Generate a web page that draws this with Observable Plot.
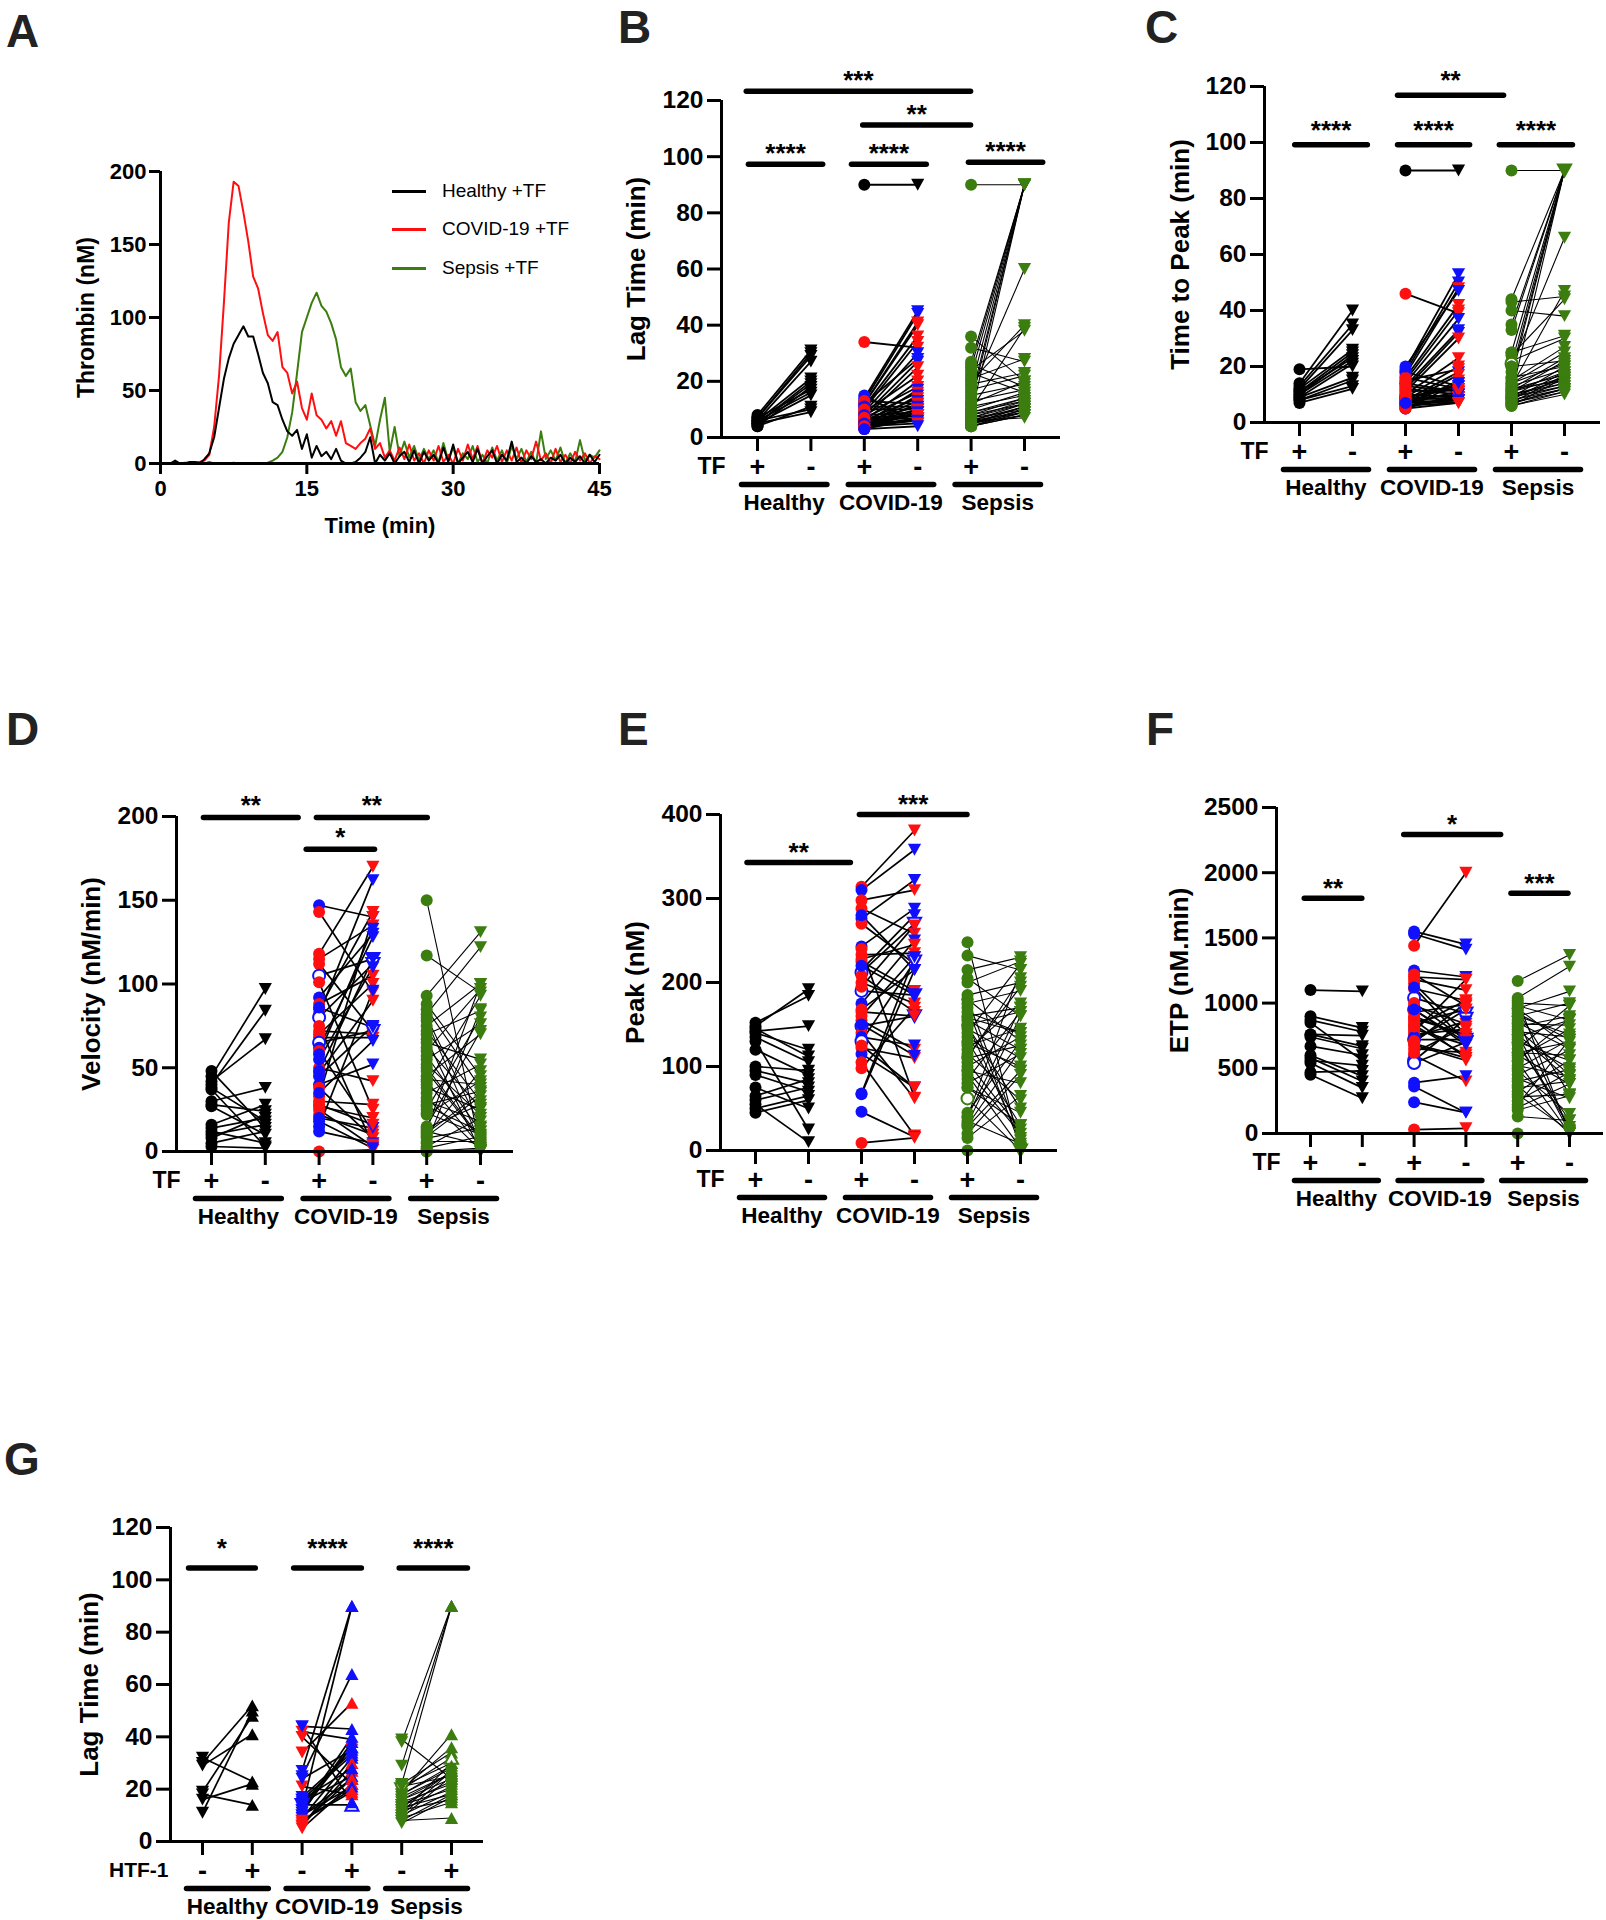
<!DOCTYPE html>
<html>
<head>
<meta charset="utf-8">
<script src="https://cdn.jsdelivr.net/npm/d3@7"></script>
<script src="https://cdn.jsdelivr.net/npm/@observablehq/plot@0.6"></script>
<style>
  html, body { margin: 0; padding: 0; background: #fff; overflow: hidden; }
  #page { position: relative; width: 1606px; height: 1920px; font-family: "Liberation Sans", Arial, sans-serif; }
  .letter { position: absolute; font-size: 46px; font-weight: bold; line-height: 1; color: #222; }
  .leg { position: absolute; font-size: 19px; line-height: 1; color: #000; }
  .legline { position: absolute; height: 3px; }
</style>
</head>
<body>
<div id="page"></div>
<script>
// ---------------- Panel A data: thrombin generation curves ----------------
const timeA = [0.5,1,1.5,2,2.5,3,3.5,4,4.5,5, 5.5,6,6.5,7,7.5,8,8.5,9,9.5,10,
  10.5,11,11.5,12,12.5,13,13.5,14,14.5,15, 15.5,16,16.5,17,17.5,18,18.5,19,19.5,20,
  20.5,21,21.5,22,22.5,23,23.5,24,24.5,25, 25.5,26,26.5,27,27.5,28,28.5,29,29.5,30,
  30.5,31,31.5,32,32.5,33,33.5,34,34.5,35, 35.5,36,36.5,37,37.5,38,38.5,39,39.5,40,
  40.5,41,41.5,42,42.5,43,43.5,44,44.5,45];
const thrombinHealthy = [0,0,2,0,0,1,1,0,3,7, 18,38,58,72,82,88,94,87,87,75,
  62,55,42,40,30,22,19,23,10,20, 4,12,5,8,3,10,2,0,0,1,
  4,8,18,0,6,2,7,0,5,8, 1,9,0,8,2,6,0,11,1,13,
  0,4,8,1,10,0,5,9,0,6, 2,15,1,4,0,5,1,3,0,4,
  2,6,0,4,1,5,0,6,1,6];
const thrombinCovid = [0,0,0,0,0.5,0.5,1,1,2,6, 25,60,110,165,193,190,172,152,128,120,
  103,88,84,90,66,62,48,56,38,30, 48,33,30,24,29,19,29,14,12,10,
  14,17,24,10,14,4,9,2,11,3, 13,2,7,0,9,2,12,1,6,0,
  10,2,13,3,12,0,9,4,12,1, 9,2,11,0,9,3,15,2,7,0,
  10,1,6,0,8,2,7,0,5,3];
const thrombinSepsis = [0,0,0,0,0,0,0.5,0,0,1, 0,0,0,0,0.5,0,0,0,0,0,
  0,0.5,2,4,8,18,35,62,90,100, 110,117,108,104,96,85,66,60,65,42,
  36,40,26,12,30,45,8,25,5,15, 4,12,2,10,3,9,1,14,2,11,
  0,7,3,12,1,6,0,11,2,9, 0,12,3,10,1,8,0,22,3,9,
  2,11,0,7,1,16,2,6,4,9];
const legendA = ["Healthy +TF", "COVID-19 +TF", "Sepsis +TF"];

// ---------------- shared category labels ----------------
const groupNames = ["Healthy", "COVID-19", "Sepsis"];
const signsTF = ["+", "-", "+", "-", "+", "-"];
const signsHTF = ["-", "+", "-", "+", "-", "+"];

// ---------------- Panel B: Lag Time ----------------
const B_H_plus  = [8, 7, 7, 6, 6, 5, 5, 4, 7, 6, 5, 4, 6, 5];
const B_H_minus = [31, 30, 29, 27, 21, 20, 19, 18, 17, 16, 15, 11, 10, 9];
const B_C_plus  = [90, 34, 14, 13, 12, 12, 11, 10, 9, 12, 8, 7, 9, 6, 8, 5, 7, 4, 6, 5, 4, 6, 3, 5, 4, 3, 6, 5, 4, 3, 5, 4, 15, 13, 11, 10, 8, 7, 6, 5, 4, 3];
const B_C_minus = [90, 32, 45, 44, 41, 40, 36, 34, 30, 28, 27, 25, 22, 20, 18, 17, 16, 15, 14, 13, 12, 11, 10, 10, 9, 9, 8, 8, 7, 7, 6, 6, 5, 12, 11, 10, 9, 8, 7, 6, 5, 4];
const B_C_color = ["k","r","b","b","r","r","r","r","b","b","b","r","r","r","r","b","r","b","r","b","r","b","r","b","r","r","b","r","r","b","r","b","b","r","b","r","b","r","r","b","r","b"];
const B_S_plus  = [90, 36, 32, 27, 25, 24, 22, 20, 18, 16, 14, 12, 10, 8, 26, 23, 21, 19, 17, 15, 13, 11, 9, 7, 6, 5, 4, 12, 10, 8, 7, 6, 5, 4, 9, 8, 7, 6, 5, 4, 6, 5, 4, 5];
const B_S_minus = [90, 20, 27, 90, 90, 38, 90, 40, 90, 60, 90, 90, 39, 90, 18, 16, 28, 23, 22, 19, 17, 15, 14, 13, 12, 11, 10, 20, 16, 14, 12, 11, 10, 9, 13, 12, 10, 9, 8, 8, 7, 9, 8, 11];
const B_sigLabel = ["***", "**", "****", "****", "****"];
const B_sigFrom  = [0.79, 2.97, 0.83, 2.76, 4.95];
const B_sigTo    = [4.99, 4.99, 2.22, 4.16, 6.34];
const B_sigY     = [123.3, 111.3, 97.3, 97.3, 98.0];

// ---------------- Panel C: Time to Peak ----------------
const C_H_plus  = [19, 14, 13, 12, 12, 11, 10, 10, 9, 9, 8, 8, 7, 11];
const C_H_minus = [20, 40, 35, 33, 26, 25, 24, 22, 21, 16, 15, 13, 12, 23];
const C_C_plus  = [90, 46, 19, 18, 17, 16, 15, 14, 13, 12, 11, 10, 9, 8, 7, 6, 5, 18, 16, 14, 12, 10, 9, 8, 7, 6, 5, 13, 11, 9, 8, 7, 6, 10, 8, 7, 6, 5, 9, 7, 20, 15];
const C_C_minus = [90, 39, 53, 50, 48, 42, 40, 37, 33, 32, 30, 23, 20, 18, 17, 15, 14, 13, 12, 11, 10, 9, 8, 7, 8, 9, 10, 11, 12, 13, 9, 8, 7, 9, 10, 11, 8, 7, 12, 14, 47, 19];
const C_C_color = ["k","r","b","b","r","r","r","b","b","b","r","r","r","b","r","r","r","b","r","b","r","r","b","r","b","r","b","r","r","b","r","b","r","r","b","r","b","r","r","b","b","r"];
const C_S_plus  = [90, 44, 43, 40, 35, 33, 25, 24, 22, 21, 20, 18, 16, 15, 14, 13, 12, 11, 10, 9, 8, 7, 6, 25, 20, 16, 12, 10, 9, 8, 7, 6, 12, 11, 10, 9, 8, 7, 14, 13, 11, 9, 7, 6];
const C_S_minus = [90, 90, 45, 38, 90, 90, 90, 44, 30, 90, 66, 90, 90, 27, 25, 47, 23, 22, 90, 20, 18, 17, 16, 31, 22, 20, 15, 14, 13, 12, 11, 10, 17, 16, 15, 14, 13, 12, 21, 19, 18, 16, 12, 11];
const C_S_open  = [9];
const C_sigLabel = ["**", "****", "****", "****"];
const C_sigFrom  = [2.85, 0.91, 2.85, 4.77];
const C_sigTo    = [4.85, 2.28, 4.21, 6.15];
const C_sigY     = [116.9, 99.2, 99.2, 99.2];

// ---------------- Panel D: Velocity ----------------
const D_H_plus  = [45, 40, 42, 30, 48, 37, 28, 27, 16, 14, 12, 10, 8, 5, 3, 38];
const D_H_minus = [97, 84, 67, 38, 14, 3, 24, 10, 28, 20, 5, 16, 22, 12, 2, 18];
const D_C_plus  = [147, 143, 118, 115, 112, 105, 101, 92, 88, 85, 82, 80, 72, 70, 68, 65, 62, 60, 58, 50, 47, 45, 40, 38, 33, 30, 27, 25, 22, 20, 15, 12, 0, 48, 35, 75, 55, 28, 18, 86];
const D_C_minus = [140, 95, 170, 135, 72, 115, 25, 130, 105, 143, 162, 112, 70, 100, 68, 72, 128, 12, 133, 42, 90, 75, 52, 8, 140, 28, 20, 3, 10, 14, 96, 5, 1, 115, 66, 4, 110, 16, 2, 74];
const D_C_color = ["b","r","r","r","r","o","r","b","r","r","b","o","r","r","r","o","b","r","b","r","r","b","b","r","r","r","r","r","r","b","b","b","r","b","b","r","b","r","b","b"];
const D_S_plus  = [150, 117, 93, 88, 82, 80, 78, 75, 72, 70, 67, 65, 60, 57, 55, 52, 50, 45, 43, 42, 40, 38, 35, 32, 30, 28, 25, 23, 22, 15, 14, 13, 12, 10, 9, 8, 6, 5, 3, 2, 1, 0, 85, 62, 48, 27, 11, 0];
const D_S_minus = [2, 95, 131, 45, 122, 15, 5, 100, 30, 84, 0, 55, 97, 12, 76, 22, 8, 70, 40, 3, 93, 25, 52, 1, 18, 36, 80, 10, 42, 72, 28, 100, 4, 48, 33, 14, 6, 85, 20, 9, 0, 2, 38, 26, 7, 12, 35, 1];
const D_sigLabel = ["**", "**", "*"];
const D_sigFrom  = [0.85, 2.95, 2.76];
const D_sigTo    = [2.61, 5.01, 4.03];
const D_sigY     = [199.4, 199.4, 180.5];

// ---------------- Panel E: Peak ----------------
const E_H_plus  = [152, 148, 145, 142, 140, 135, 130, 120, 100, 95, 90, 75, 65, 60, 55, 50, 45];
const E_H_minus = [184, 192, 112, 148, 120, 105, 25, 90, 95, 80, 70, 50, 85, 75, 10, 65, 60];
const E_C_plus  = [314, 310, 298, 288, 276, 270, 243, 233, 225, 215, 212, 208, 200, 190, 175, 168, 160, 155, 148, 140, 135, 130, 122, 115, 105, 98, 68, 67, 46, 9, 228, 220, 195, 165, 150, 125, 280, 240];
const E_C_minus = [381, 358, 310, 258, 322, 222, 288, 235, 190, 280, 270, 165, 175, 185, 250, 215, 230, 120, 160, 62, 125, 225, 110, 75, 18, 170, 230, 215, 16, 15, 245, 185, 268, 160, 113, 75, 215, 63];
const E_C_color = ["r","b","r","r","b","r","b","r","r","b","o","r","r","o","b","r","r","r","o","r","b","o","r","b","r","r","b","b","b","r","r","b","r","r","b","r","b","r"];
const E_S_plus  = [248, 232, 215, 205, 200, 185, 180, 175, 170, 160, 158, 155, 150, 145, 140, 135, 130, 125, 120, 115, 110, 105, 100, 95, 90, 85, 80, 75, 62, 45, 40, 35, 32, 30, 28, 15, 0, 180, 165, 148, 128, 112, 95, 75, 40, 20, 150, 110];
const E_S_minus = [2, 215, 230, 160, 225, 200, 130, 190, 5, 170, 140, 120, 165, 110, 222, 95, 30, 145, 175, 60, 205, 25, 135, 80, 3, 165, 115, 45, 0, 130, 215, 8, 160, 120, 95, 65, 0, 15, 140, 50, 100, 195, 20, 30, 170, 90, 12, 125];
const E_S_open  = [28];
const E_sigLabel = ["**", "***"];
const E_sigFrom  = [0.84, 2.96];
const E_sigTo    = [2.79, 4.99];
const E_sigY     = [343, 400];

// ---------------- Panel F: ETP ----------------
const F_H_plus  = [1100, 900, 870, 850, 760, 740, 670, 600, 580, 560, 540, 470, 450, 760];
const F_H_minus = [1090, 810, 780, 560, 750, 650, 600, 440, 400, 520, 350, 480, 270, 670];
const F_C_plus  = [1550, 1530, 1440, 1250, 1220, 1200, 1150, 1110, 1040, 980, 950, 900, 870, 850, 800, 760, 720, 700, 680, 650, 600, 560, 540, 390, 360, 240, 30, 1180, 1000, 930, 880, 830, 780, 740, 710, 690, 620, 950, 820, 1120];
const F_C_minus = [1450, 1410, 2000, 1200, 980, 1180, 760, 1020, 920, 840, 700, 740, 580, 950, 680, 800, 720, 1000, 560, 620, 400, 880, 700, 440, 160, 160, 40, 1100, 720, 990, 760, 600, 1180, 860, 950, 580, 820, 680, 1020, 700];
const F_C_color = ["b","b","r","b","r","r","r","r","o","r","o","r","r","r","r","r","o","r","r","r","r","o","o","b","b","b","r","r","r","r","r","r","r","b","r","r","r","b","r","b"];
const F_S_plus  = [1170, 1040, 1020, 1000, 980, 960, 940, 920, 900, 870, 850, 820, 800, 780, 760, 740, 720, 700, 680, 650, 620, 600, 580, 550, 520, 500, 480, 450, 420, 400, 370, 350, 320, 300, 280, 250, 220, 200, 180, 130, 0, 840, 700, 560, 900, 760, 960, 620];
const F_S_minus = [1370, 1280, 0, 980, 870, 1090, 300, 720, 1000, 30, 650, 900, 450, 740, 10, 870, 500, 560, 100, 980, 700, 380, 800, 0, 440, 720, 150, 640, 270, 490, 0, 400, 560, 20, 300, 470, 720, 380, 290, 100, 0, 830, 50, 880, 760, 410, 660, 600];
const F_sigLabel = ["**", "*", "***"];
const F_sigFrom  = [0.88, 2.80, 4.87];
const F_sigTo    = [1.99, 4.67, 5.97];
const F_sigY     = [1805, 2292, 1843];

// ---------------- Panel G: Lag Time with HTF-1 ----------------
const G_H_minus = [32, 30, 29, 19, 18, 16, 11];
const G_H_plus  = [23, 52, 41, 48, 14, 22, 50];
const G_C_minus = [44, 42, 40, 34, 27, 25, 21, 16, 14, 12, 10, 8, 6, 5, 44, 24, 15, 13, 11, 9, 7, 6, 12, 10, 8, 14, 16, 17];
const G_C_plus  = [43, 39, 22, 53, 90, 64, 18, 33, 14, 36, 24, 20, 27, 22, 15, 35, 25, 90, 38, 32, 24, 30, 40, 21, 19, 36, 28, 34];
const G_C_color = ["b","r","r","r","b","b","r","b","o","b","b","r","r","r","b","b","b","b","b","b","r","r","b","b","r","b","b","b"];
const G_S_minus = [39, 38, 29, 22, 21, 20, 19, 18, 17, 16, 15, 14, 13, 12, 11, 10, 9, 8, 7, 22, 20, 18, 16, 14, 12, 10, 9, 8, 21, 13];
const G_S_plus  = [24, 90, 90, 90, 30, 36, 41, 28, 26, 24, 22, 20, 18, 16, 30, 27, 25, 9, 17, 34, 32, 29, 26, 23, 21, 19, 15, 18, 25, 27];
const G_S_open  = [20];
const G_sigLabel = ["*", "****", "****"];
const G_sigFrom  = [0.72, 2.83, 4.95];
const G_sigTo    = [2.06, 4.19, 6.32];
const G_sigY     = [104.5, 104.5, 104.5];

// ---------------- styling ----------------
const FONT = '"Liberation Sans", Arial, Helvetica, sans-serif';
const RED = "#ff1010", BLUE = "#1010ff", GREEN = "#3b7d0e", BLACK = "#000000";
const colorOf = {k: BLACK, r: RED, b: BLUE, o: BLUE, g: GREEN};

const triDown = {draw(ctx, size) { const s = Math.sqrt(size) * 0.62; ctx.moveTo(-s, -s * 0.9); ctx.lineTo(s, -s * 0.9); ctx.lineTo(0, s * 0.9); ctx.closePath(); }};
const triUp = {draw(ctx, size) { const s = Math.sqrt(size) * 0.62; ctx.moveTo(-s, s * 0.9); ctx.lineTo(s, s * 0.9); ctx.lineTo(0, -s * 0.9); ctx.closePath(); }};

const page = document.getElementById("page");
function placeSvg(svg, left, top) {
  svg.style.position = "absolute";
  svg.style.left = left + "px";
  svg.style.top = top + "px";
  page.appendChild(svg);
}
function letter(ch, left, top) {
  const d = document.createElement("div");
  d.className = "letter"; d.textContent = ch;
  d.style.left = left + "px"; d.style.top = top + "px";
  page.appendChild(d);
}

// ---------------- Panel A ----------------
(function panelA() {
  const fx0 = 160, fx1 = 599, fyTop = 171, fy0 = 463;
  const mL = 120, mR = 20, mT = 20, mB = 90;
  const rows = (vals) => timeA.map((t, i) => ({t, v: vals[i]}));
  const svg = Plot.plot({
    width: mL + (fx1 - fx0) + mR, height: mT + (fy0 - fyTop) + mB,
    marginLeft: mL, marginRight: mR, marginTop: mT, marginBottom: mB,
    style: {background: "transparent", overflow: "visible", fontFamily: FONT, fontWeight: "bold", color: "#000", maxWidth: "none"},
    x: {type: "linear", domain: [0, 45], label: null},
    y: {type: "linear", domain: [0, 200], label: null},
    marks: [
      Plot.line(rows(thrombinSepsis), {x: "t", y: "v", stroke: GREEN, strokeWidth: 2}),
      Plot.line(rows(thrombinCovid), {x: "t", y: "v", stroke: RED, strokeWidth: 2}),
      Plot.line(rows(thrombinHealthy), {x: "t", y: "v", stroke: BLACK, strokeWidth: 2}),
      Plot.ruleX([0], {y1: 0, y2: 200, strokeWidth: 3}),
      Plot.ruleY([0], {x1: 0, x2: 45, strokeWidth: 3}),
      Plot.axisY({ticks: [0, 50, 100, 150, 200], tickSize: 11, tickPadding: 3, fontSize: 22, strokeWidth: 3, label: null}),
      Plot.axisX({ticks: [0, 15, 30, 45], tickSize: 11, tickPadding: 6, fontSize: 22, strokeWidth: 3, label: null}),
      Plot.text(["Thrombin (nM)"], {frameAnchor: "left", rotate: -90, dx: -74, fontSize: 23, textAnchor: "middle", lineAnchor: "middle"}),
      Plot.text(["Time (min)"], {frameAnchor: "bottom", dy: 62, fontSize: 22, textAnchor: "middle", lineAnchor: "middle"})
    ]
  });
  placeSvg(svg, fx0 - mL, fyTop - mT);
  // legend
  const legColors = [BLACK, RED, GREEN];
  const legY = [191, 229, 268];
  legendA.forEach((name, i) => {
    const ln = document.createElement("div");
    ln.className = "legline";
    ln.style.left = "392px"; ln.style.width = "34px"; ln.style.top = (legY[i] - 1.5) + "px";
    ln.style.background = legColors[i];
    page.appendChild(ln);
    const t = document.createElement("div");
    t.className = "leg"; t.textContent = name;
    t.style.left = "442px"; t.style.top = (legY[i] - 10) + "px";
    page.appendChild(t);
  });
})();

// ---------------- paired panels ----------------
function pairPanel(cfg) {
  const mL = 150, mR = 6, mT = 120, mB = 90;
  const xmin = 1 - (cfg.p1 - cfg.fx0) / cfg.step;
  const xmax = 1 + (cfg.fx1 - cfg.p1) / cfg.step;
  const width = mL + (cfg.fx1 - cfg.fx0) + mR;
  const height = mT + (cfg.fy0 - cfg.fyTop) + mB;
  const half = 0.5 + 16 / cfg.step;
  const linkMarks = [], ptsA = [], ptsB = [];
  cfg.groups.forEach((g, gi) => {
    const xa = 2 * gi + 1, xb = 2 * gi + 2;
    const n = Math.min(g.a.length, g.b.length);
    const L = [];
    for (let i = 0; i < n; i++) {
      const code = g.colors ? g.colors[i] : g.code;
      const open = code === "o" || (g.open || []).includes(i);
      const col = colorOf[code];
      L.push({x1: xa, x2: xb, y1: g.a[i], y2: g.b[i]});
      ptsA.push({x: xa, y: g.a[i], col, open});
      ptsB.push({x: xb, y: g.b[i], col, open});
    }
    linkMarks.push(Plot.link(L, {x1: "x1", y1: "y1", x2: "x2", y2: "y2", stroke: "black", strokeWidth: g.lineW}));
  });
  const groups = groupNames.map((name, i) => ({name, c: 2 * i + 1.5}));
  const sig = cfg.sigLabel.map((label, i) => ({label, a: cfg.sigFrom[i], b: cfg.sigTo[i], y: cfg.sigY[i]}));
  const dotOpts = {x: "x", y: "y", r: 6,
    fill: (d) => d.open ? "white" : d.col,
    stroke: (d) => d.open ? d.col : "none", strokeWidth: 2};
  const svg = Plot.plot({
    width, height, marginLeft: mL, marginRight: mR, marginTop: mT, marginBottom: mB,
    style: {background: "transparent", overflow: "visible", fontFamily: FONT, fontWeight: "bold", color: "#000", maxWidth: "none"},
    x: {type: "linear", domain: [xmin, xmax], label: null},
    y: {type: "linear", domain: [0, cfg.yMax], label: null},
    color: {type: "identity"},
    marks: [
      ...linkMarks,
      Plot.dot(ptsA, {...dotOpts, symbol: cfg.symA}),
      Plot.dot(ptsB, {...dotOpts, symbol: cfg.symB}),
      Plot.ruleX([xmin], {y1: 0, y2: cfg.yMax, strokeWidth: 3}),
      Plot.ruleY([0], {x1: xmin, x2: xmax, strokeWidth: 3}),
      Plot.axisY({ticks: cfg.yTicks, tickSize: 14, tickPadding: 4, fontSize: 24.5, strokeWidth: 3, label: null, tickFormat: (d) => String(d)}),
      Plot.axisX({ticks: [1, 2, 3, 4, 5, 6], tickSize: 14, tickPadding: 5, fontSize: 27, strokeWidth: 3, label: null, tickFormat: (d) => cfg.signs[Math.round(d) - 1]}),
      Plot.text([cfg.factor], {x: xmin, y: 0, dx: cfg.factorDx, dy: 29, textAnchor: "end", lineAnchor: "middle", fontSize: cfg.factorSize}),
      Plot.link(groups, {x1: (d) => d.c - half, x2: (d) => d.c + half, y1: 0, y2: 0, dy: 47, strokeWidth: 5.5, strokeLinecap: "round", stroke: "black"}),
      Plot.text(groups, {x: "c", y: 0, text: "name", dy: 65, fontSize: 22.5, lineAnchor: "middle"}),
      Plot.link(sig, {x1: "a", x2: "b", y1: "y", y2: "y", strokeWidth: 5.5, strokeLinecap: "round", stroke: "black"}),
      Plot.text(sig, {x: (d) => (d.a + d.b) / 2, y: "y", text: "label", dy: -(cfg.starOff - 6.5), fontSize: 26, lineAnchor: "middle"}),
      Plot.text([cfg.yLabel], {frameAnchor: "left", rotate: -90, dx: -cfg.titleOff, fontSize: 26, textAnchor: "middle", lineAnchor: "middle"})
    ]
  });
  placeSvg(svg, cfg.fx0 - mL, cfg.fyTop - mT);
}

const tfCommon = {signs: signsTF, factor: "TF", factorDx: 4, factorSize: 23, symA: "circle", symB: triDown};
const yt120 = [0, 20, 40, 60, 80, 100, 120];

pairPanel({...tfCommon, fx0: 721, fx1: 1060, fyTop: 100, fy0: 437, p1: 757, step: 53.4, yMax: 120, yTicks: yt120,
  yLabel: "Lag Time (min)", titleOff: 85, starOff: 17,
  sigLabel: B_sigLabel, sigFrom: B_sigFrom, sigTo: B_sigTo, sigY: B_sigY,
  groups: [
    {a: B_H_plus, b: B_H_minus, code: "k", lineW: 1.8},
    {a: B_C_plus, b: B_C_minus, colors: B_C_color, lineW: 1.8},
    {a: B_S_plus, b: B_S_minus, code: "g", lineW: 1.1}
  ]});

pairPanel({...tfCommon, fx0: 1264, fx1: 1600, fyTop: 86, fy0: 422, p1: 1299, step: 53, yMax: 120, yTicks: yt120,
  yLabel: "Time to Peak (min)", titleOff: 84, starOff: 21,
  sigLabel: C_sigLabel, sigFrom: C_sigFrom, sigTo: C_sigTo, sigY: C_sigY,
  groups: [
    {a: C_H_plus, b: C_H_minus, code: "k", lineW: 1.8},
    {a: C_C_plus, b: C_C_minus, colors: C_C_color, lineW: 1.8},
    {a: C_S_plus, b: C_S_minus, code: "g", open: C_S_open, lineW: 1.1}
  ]});

pairPanel({...tfCommon, fx0: 176, fx1: 513, fyTop: 816, fy0: 1151, p1: 211, step: 53.8, yMax: 200, yTicks: [0, 50, 100, 150, 200],
  yLabel: "Velocity (nM/min)", titleOff: 85, starOff: 18,
  sigLabel: D_sigLabel, sigFrom: D_sigFrom, sigTo: D_sigTo, sigY: D_sigY,
  groups: [
    {a: D_H_plus, b: D_H_minus, code: "k", lineW: 1.7},
    {a: D_C_plus, b: D_C_minus, colors: D_C_color, lineW: 1.7},
    {a: D_S_plus, b: D_S_minus, code: "g", lineW: 1.1}
  ]});

pairPanel({...tfCommon, fx0: 720, fx1: 1057, fyTop: 814, fy0: 1150, p1: 755, step: 53, yMax: 400, yTicks: [0, 100, 200, 300, 400],
  yLabel: "Peak (nM)", titleOff: 85, starOff: 16,
  sigLabel: E_sigLabel, sigFrom: E_sigFrom, sigTo: E_sigTo, sigY: E_sigY,
  groups: [
    {a: E_H_plus, b: E_H_minus, code: "k", lineW: 1.7},
    {a: E_C_plus, b: E_C_minus, colors: E_C_color, lineW: 1.7},
    {a: E_S_plus, b: E_S_minus, code: "g", open: E_S_open, lineW: 1.1}
  ]});

pairPanel({...tfCommon, fx0: 1276, fx1: 1603, fyTop: 807, fy0: 1133, p1: 1310, step: 51.8, yMax: 2500, yTicks: [0, 500, 1000, 1500, 2000, 2500],
  yLabel: "ETP (nM.min)", titleOff: 97, starOff: 16,
  sigLabel: F_sigLabel, sigFrom: F_sigFrom, sigTo: F_sigTo, sigY: F_sigY,
  groups: [
    {a: F_H_plus, b: F_H_minus, code: "k", lineW: 1.7},
    {a: F_C_plus, b: F_C_minus, colors: F_C_color, lineW: 1.7},
    {a: F_S_plus, b: F_S_minus, code: "g", lineW: 1.1}
  ]});

pairPanel({signs: signsHTF, factor: "HTF-1", factorDx: -2, factorSize: 21, symA: triDown, symB: triUp,
  fx0: 170, fx1: 483, fyTop: 1527, fy0: 1841, p1: 202, step: 49.8, yMax: 120, yTicks: yt120,
  yLabel: "Lag Time (min)", titleOff: 81, starOff: 26,
  sigLabel: G_sigLabel, sigFrom: G_sigFrom, sigTo: G_sigTo, sigY: G_sigY,
  groups: [
    {a: G_H_minus, b: G_H_plus, code: "k", lineW: 1.7},
    {a: G_C_minus, b: G_C_plus, colors: G_C_color, lineW: 1.7},
    {a: G_S_minus, b: G_S_plus, code: "g", open: G_S_open, lineW: 1.1}
  ]});

// panel letters
letter("A", 6, 8);
letter("B", 618, 4);
letter("C", 1145, 4);
letter("D", 6, 706);
letter("E", 618, 706);
letter("F", 1146, 706);
letter("G", 4, 1436);
</script>
</body>
</html>
